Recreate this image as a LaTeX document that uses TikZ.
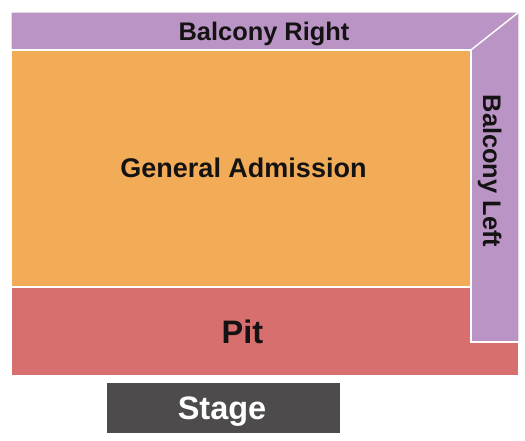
\documentclass[tikz,border=0pt]{standalone}
\usepackage{fontspec}
\setmainfont{Liberation Sans}
\usepackage{xcolor}
\definecolor{balcony}{RGB}{186,148,196}
\definecolor{general}{RGB}{242,172,88}
\definecolor{pit}{RGB}{216,111,111}
\definecolor{stage}{RGB}{77,75,76}
\definecolor{ink}{RGB}{20,18,18}

\begin{document}
\begin{tikzpicture}[
  x=1pt, y=-1pt,
  section/.style={draw=white, line width=1.3pt, line join=miter},
  label/.style={font=\bfseries\fontsize{25.4}{30}\selectfont, text=ink, inner sep=0pt, anchor=base},
]
\useasboundingbox (0,0) rectangle (525,440);

% sections of the floor
\fill[balcony, section] (11,12) -- (519,12) -- (471,50) -- (11,50) -- cycle;
\fill[balcony, section] (471,50) -- (519,12) -- (519,342) -- (471,342) -- cycle;
\fill[general, section] (11,50) rectangle (471,287);
\fill[pit, section] (11,287) -- (471,287) -- (471,342) -- (519,342)
  -- (519,376) -- (11,376) -- cycle;
\fill[stage] (107,383) rectangle (340,433);

% labels
\node[label] (balcR) at (264,40) {Balcony Right};
\node[label, rotate=-90] (balcL) at (483,171) {Balcony Left};
\node[label, font=\bfseries\fontsize{27}{30}\selectfont] (ga) at (243.5,177) {General Admission};
\node[label, font=\bfseries\fontsize{32.5}{36}\selectfont] (pitlbl) at (242.5,343) {Pit};
\node[label, font=\bfseries\fontsize{32.5}{36}\selectfont, text=white] (stagelbl) at (222,419) {Stage};

\end{tikzpicture}
\end{document}
